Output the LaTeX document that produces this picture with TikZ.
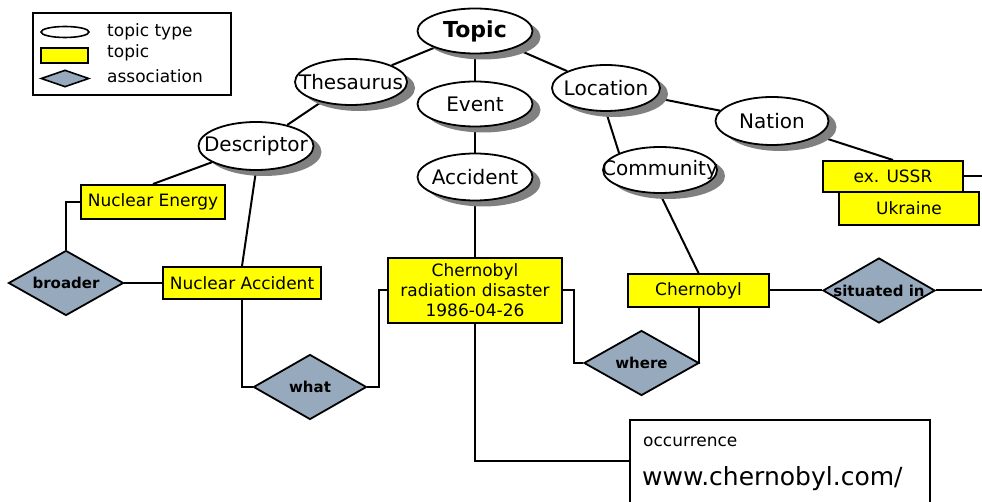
\documentclass[tikz,border=0pt]{standalone}
\usepackage{fontspec}
\setmainfont{DejaVu Sans}
\usetikzlibrary{shapes.geometric,shadows,backgrounds,calc}
\definecolor{topicyellow}{RGB}{255,255,0}
\definecolor{assocblue}{RGB}{151,170,189}
\definecolor{shadowgray}{RGB}{128,128,128}
\newcommand\zb[1]{\makebox[0pt]{#1}}
\tikzset{
 tt/.style={ellipse, draw, line width=1.8pt, fill=white, inner sep=0pt,
   font=\fontsize{20}{22}\selectfont,
   drop shadow={shadow xshift=8pt, shadow yshift=-6pt, fill=shadowgray, opacity=1}},
 tp/.style={rectangle, draw, line width=2pt, fill=topicyellow, inner sep=0pt,
   font=\fontsize{17}{20}\selectfont, align=center},
 assoc/.style={diamond, draw, line width=1.8pt, fill=assocblue, inner sep=0pt,
   minimum width=115pt, minimum height=65pt, font=\bfseries\fontsize{15}{18}\selectfont},
 conn/.style={line width=2pt},
 legtext/.style={anchor=west, inner sep=0pt, font=\fontsize{17}{19}\selectfont}
}
\begin{document}
\begin{tikzpicture}[x=1pt,y=-1pt]
\useasboundingbox (0,0) rectangle (982,502);
\clip (0,0) rectangle (982,502);

% legend
\node[draw, line width=2pt, minimum width=198pt, minimum height=82pt, inner sep=0pt] (leg) at (132,54) {};
\node[ellipse, draw, line width=1.6pt, fill=white, minimum width=48pt, minimum height=11pt, inner sep=0pt] (legtt) at (65,32) {};
\node[rectangle, draw, line width=1.6pt, fill=topicyellow, minimum width=47pt, minimum height=15pt, inner sep=0pt] (legtp) at (64.5,55.5) {};
\node[diamond, draw, line width=1.6pt, fill=assocblue, minimum width=48pt, minimum height=17pt, inner sep=0pt] (legas) at (65,78.5) {};
\node[legtext] (lt1) at (107,32) {topic type};
\node[legtext] (lt2) at (107,53) {topic};
\node[legtext] (lt3) at (107,76) {association};

% topic types
\node[tt, minimum width=115pt, minimum height=45pt, font=\bfseries\fontsize{22}{24}\selectfont] (topic) at (475,31) {\zb{Topic}};
\node[tt, minimum width=112pt, minimum height=46pt] (thes) at (351,82) {\zb{Thesaurus}};
\node[tt, minimum width=115pt, minimum height=45pt] (event) at (475,104) {\zb{Event}};
\node[tt, minimum width=108pt, minimum height=46pt] (loc) at (606,88) {\zb{Location}};
\node[tt, minimum width=113pt, minimum height=48pt] (nation) at (772,121) {\zb{Nation}};
\node[tt, minimum width=114pt, minimum height=46pt] (comm) at (660,170) {\zb{Community}};
\node[tt, minimum width=115pt, minimum height=48pt] (desc) at (256,146) {\zb{Descriptor}};
\node[tt, minimum width=115pt, minimum height=47pt] (acc) at (475,177) {\zb{Accident}};

% topics
\node[tp, minimum width=144pt, minimum height=34pt] (nenergy) at (153,202) {Nuclear Energy};
\node[tp, minimum width=158pt, minimum height=32pt] (nacc) at (242,283) {Nuclear Accident};
\node[tp, minimum width=174pt, minimum height=65pt] (dis) at (475,290.5) {Chernobyl\\radiation disaster\\1986-04-26};
\node[tp, minimum width=141pt, minimum height=33pt] (chern) at (698.5,290.5) {Chernobyl};
\node[tp, minimum width=140pt, minimum height=31pt] (ussr) at (893,176.5) {ex. USSR};
\node[tp, minimum width=140pt, minimum height=33pt] (ukr) at (909,208.5) {Ukraine};

% associations
\node[assoc] (broader) at (66,283) {\zb{broader}};
\node[assoc, minimum width=113pt] (what) at (310,387) {\zb{what}};
\node[assoc] (where) at (641.5,363) {\zb{where}};
\node[assoc, minimum width=112pt] (sit) at (879,290.5) {\zb{situated in}};

% occurrence
\node[draw, line width=2pt, fill=white, anchor=north west, minimum width=300pt, minimum height=100pt, inner sep=0pt] (occ) at (629,419) {};
\node[anchor=west, inner sep=0pt, font=\fontsize{17}{19}\selectfont] (occt) at (643,442) {occurrence};
\node[anchor=west, inner sep=0pt, font=\fontsize{25}{27}\selectfont] (occu) at (642,479) {www.chernobyl.com/};

\coordinate (e1) at (982,176.5);
\coordinate (e2) at (982,290.5);

\begin{scope}[on background layer]
\draw[conn] (topic) -- (thes);
\draw[conn] (topic) -- (event);
\draw[conn] (topic) -- (loc);
\draw[conn] (thes) -- (desc);
\draw[conn] (event) -- (acc);
\draw[conn] (loc) -- (nation);
\draw[conn] (loc.south) -- (comm.north west);
\draw[conn] (nation) -- (ussr.north);
\draw[conn] (ussr.east) -- (e1);
\draw[conn] (comm.south) -- (chern.north);
\draw[conn] (chern) -- (sit);
\draw[conn] (sit) -- (e2);
\draw[conn] (chern.south) |- (where.east);
\draw[conn] (dis.east) -- ++(11,0) |- (where.west);
\draw[conn] (acc) -- (dis);
\draw[conn] (dis.south) |- ($(occ.north west)!0.41!(occ.south west)$);
\draw[conn] (nacc.south) |- (what.west);
\draw[conn] (what.east) -- ++(12,0) |- (dis.west);
\draw[conn] (desc.south) -- (nacc.north);
\draw[conn] (desc) -- (nenergy.north);
\draw[conn] (broader.north) |- (nenergy.west);
\draw[conn] (broader) -- (nacc);
\end{scope}
\end{tikzpicture}
\end{document}
